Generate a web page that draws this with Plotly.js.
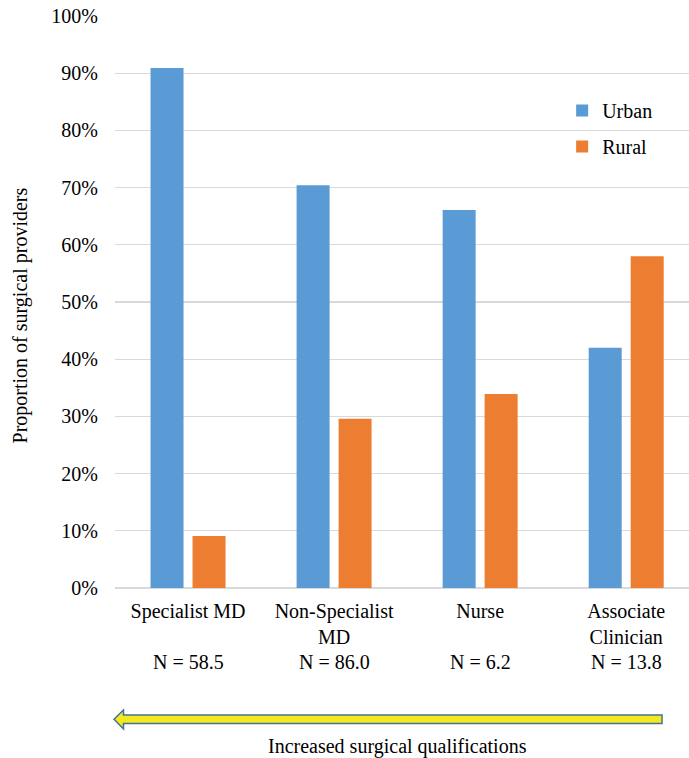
<!DOCTYPE html>
<html>
<head>
<meta charset="utf-8">
<script src="https://cdn.plot.ly/plotly-3.0.1.min.js"></script>
<style>
  html, body { margin: 0; padding: 0; background: #ffffff; }
  #chart { width: 689px; height: 758px; }
</style>
</head>
<body>
<div id="chart"></div>
<script>
// Provider categories, ordered by surgical qualification
const categories = ["Specialist MD", "Non-Specialist<br>MD", "Nurse", "Associate<br>Clinician"];
// Mean number of providers per category
const nLabels = ["N = 58.5", "N = 86.0", "N = 6.2", "N = 13.8"];
// Share of each provider type working in urban vs rural settings
const urban = [0.909, 0.704, 0.661, 0.420];
const rural = [0.091, 0.296, 0.339, 0.580];
const yTickVals = [0, 0.1, 0.2, 0.3, 0.4, 0.5, 0.6, 0.7, 0.8, 0.9, 1.0];
const yTickText = ["0%", "10%", "20%", "30%", "40%", "50%", "60%", "70%", "80%", "90%", "100%"];

const serif = "Liberation Serif, Times New Roman, serif";
const FS = 20;
const txt = { family: serif, size: FS, color: "#000000" };
const xIdx = categories.map((_, i) => i);

const traces = [
  {
    type: "bar", name: "Urban", x: xIdx, y: urban,
    marker: { color: "#5b9bd5" }, legendgroup: "u", hoverinfo: "skip"
  },
  {
    type: "bar", name: "Rural", x: xIdx, y: rural,
    marker: { color: "#ed7d31" }, legendgroup: "r", hoverinfo: "skip"
  }
];

const annotations = nLabels.map((t, i) => ({
  x: i, xref: "x", y: -0.129, yref: "paper",
  text: t, showarrow: false, xanchor: "center", yanchor: "middle", font: txt
}));
annotations.push({
  x: 0.493, xref: "paper", y: -0.277, yref: "paper",
  text: "Increased surgical qualifications", showarrow: false,
  xanchor: "center", yanchor: "middle", font: txt
});
// Vertical value-axis title
annotations.push({
  x: -0.165, xref: "paper", y: 0.477, yref: "paper",
  text: "Proportion of surgical providers", textangle: -90, showarrow: false,
  xanchor: "center", yanchor: "middle", font: txt
});

// Left-pointing block arrow under the categories
const arrowPath = "M-0.0017,-0.2295 L0.0148,-0.2133 L0.0148,-0.2220 L0.9530,-0.2220 " +
                  "L0.9530,-0.2369 L0.0148,-0.2369 L0.0148,-0.2465 Z";

const layout = {
  width: 689, height: 758,
  margin: { l: 115, r: 0, t: 16, b: 170 },
  paper_bgcolor: "#ffffff", plot_bgcolor: "#ffffff",
  font: txt,
  barmode: "group", bargap: 0.425, bargroupgap: 0.214,
  showlegend: true,
  legend: {
    x: 0.779, xanchor: "left", y: 0.869, yanchor: "top",
    bgcolor: "rgba(0,0,0,0)", tracegroupgap: 7, font: txt
  },
  xaxis: {
    range: [-0.5, 3.43], tickmode: "array", tickvals: xIdx, ticktext: categories,
    showgrid: false, zeroline: false, showline: false, ticks: "",
    ticklabelstandoff: 9, tickfont: txt, fixedrange: true
  },
  yaxis: {
    range: [0, 1.0], tickmode: "array", tickvals: yTickVals, ticktext: yTickText,
    showgrid: true, gridcolor: "#d9d9d9", gridwidth: 1.3,
    zeroline: true, zerolinecolor: "#d9d9d9", zerolinewidth: 1.3,
    showline: false, ticks: "", ticklabelstandoff: 16, tickfont: txt,
    automargin: false, fixedrange: true
  },
  annotations: annotations,
  shapes: [{
    type: "path", xref: "paper", yref: "paper", path: arrowPath,
    fillcolor: "#f3ea1d", line: { color: "#41719c", width: 1.5 }, layer: "above"
  }]
};

Plotly.newPlot("chart", traces, layout, { displayModeBar: false, staticPlot: true });
</script>
</body>
</html>
